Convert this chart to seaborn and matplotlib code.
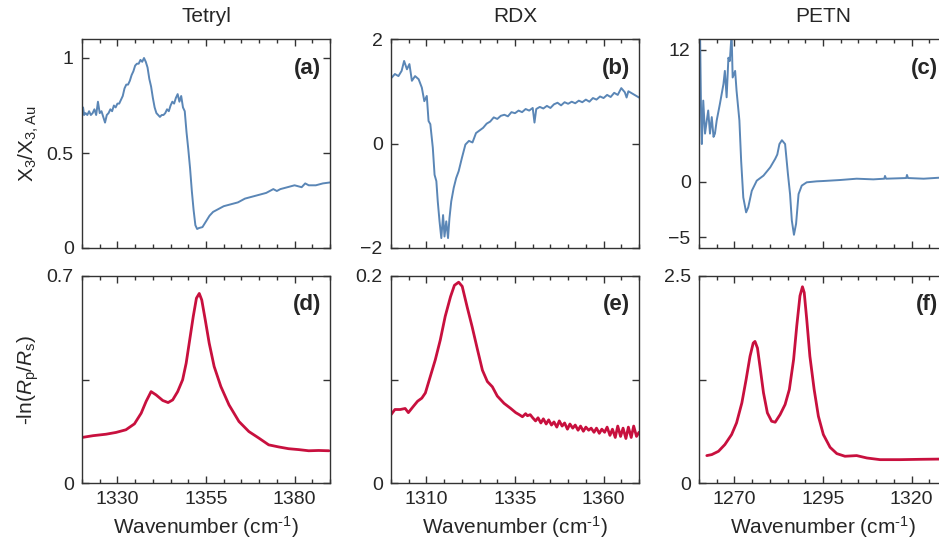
import pandas as pd
import matplotlib
matplotlib.use('Agg')
import matplotlib.pyplot as plt
import seaborn as sns
from matplotlib.ticker import MultipleLocator

# ---- data ----
titles = ['Tetryl', 'RDX', 'PETN']
panel_tags = ['(a)', '(b)', '(c)', '(d)', '(e)', '(f)']

# (a) Tetryl, X3/X3,Au
tetryl_wn_a = [1320, 1320.3, 1320.6, 1321, 1321.5, 1322, 1322.5, 1323, 1323.5, 1324,
               1324.5, 1325, 1325.5, 1326, 1326.5, 1327, 1327.5, 1328, 1328.5, 1329,
               1329.5, 1330, 1330.5, 1331, 1331.5, 1332, 1332.5, 1333, 1333.5, 1334,
               1334.5, 1335, 1335.5, 1336, 1336.5, 1337, 1337.5, 1338, 1338.5, 1339,
               1339.5, 1340, 1340.5, 1341, 1341.5, 1342, 1342.5, 1343, 1343.5, 1344,
               1344.5, 1345, 1345.5, 1346, 1346.5, 1347, 1347.5, 1348, 1348.5, 1349,
               1349.5, 1350, 1350.5, 1351, 1351.5, 1352, 1352.5, 1353, 1354, 1355,
               1356, 1357, 1358, 1359, 1360, 1362, 1364, 1366, 1368, 1370,
               1372, 1374, 1375, 1376, 1378, 1380, 1382, 1383, 1384, 1386, 1388, 1390]
tetryl_x3 = [0.69, 0.74, 0.70, 0.71, 0.70, 0.72, 0.70, 0.71, 0.73, 0.70,
             0.77, 0.71, 0.72, 0.69, 0.66, 0.70, 0.71, 0.73, 0.72, 0.75,
             0.74, 0.76, 0.76, 0.78, 0.80, 0.84, 0.86, 0.86, 0.88, 0.91,
             0.93, 0.96, 0.97, 0.97, 0.99, 0.98, 1.00, 0.98, 0.95, 0.89,
             0.85, 0.79, 0.74, 0.71, 0.70, 0.69, 0.70, 0.70, 0.71, 0.73,
             0.72, 0.75, 0.77, 0.76, 0.79, 0.81, 0.77, 0.80, 0.74, 0.72,
             0.61, 0.52, 0.42, 0.30, 0.20, 0.12, 0.10, 0.105, 0.11, 0.14,
             0.17, 0.19, 0.20, 0.21, 0.22, 0.23, 0.24, 0.26, 0.27, 0.28,
             0.29, 0.31, 0.30, 0.31, 0.32, 0.33, 0.32, 0.34, 0.33, 0.33, 0.34, 0.345]

# (b) RDX, X3/X3,Au
rdx_wn_b = [1300.2, 1301.1, 1302.1, 1303.0, 1303.7, 1304.5, 1305.2, 1305.9, 1306.8, 1307.8,
            1308.7, 1309.4, 1310.1, 1310.6, 1311.1, 1311.8, 1312.3, 1312.8, 1313.2, 1313.7,
            1314.2, 1314.7, 1315.1, 1315.6, 1316.1, 1316.5, 1317.0, 1317.7, 1318.4, 1319.1,
            1320.0, 1321.0, 1322, 1323, 1324, 1325, 1326, 1327, 1328, 1329,
            1330, 1331, 1332, 1333, 1334, 1335, 1336, 1337, 1338, 1339,
            1340, 1340.5, 1341, 1342, 1343, 1344, 1345, 1346, 1347, 1348,
            1349, 1350, 1351, 1352, 1353, 1354, 1355, 1356, 1357, 1358,
            1359, 1360, 1361, 1362, 1363, 1364, 1365, 1366, 1366.5, 1367,
            1368, 1369, 1370]
rdx_x3 = [1.26, 1.33, 1.29, 1.39, 1.58, 1.42, 1.52, 1.20, 1.29, 1.23,
          1.07, 0.81, 0.91, 0.43, 0.37, -0.08, -0.60, -0.72, -1.11, -1.49,
          -1.81, -1.37, -1.78, -1.49, -1.81, -1.43, -1.11, -0.85, -0.66, -0.53,
          -0.28, -0.02, 0.05, 0.02, 0.20, 0.25, 0.30, 0.38, 0.42, 0.50,
          0.47, 0.53, 0.55, 0.52, 0.60, 0.58, 0.63, 0.60, 0.66, 0.63,
          0.68, 0.40, 0.66, 0.70, 0.67, 0.72, 0.68, 0.75, 0.78, 0.73,
          0.79, 0.76, 0.80, 0.77, 0.82, 0.79, 0.84, 0.80, 0.87, 0.84,
          0.90, 0.87, 0.93, 0.89, 0.97, 0.93, 1.06, 0.98, 0.88, 1.00,
          0.96, 0.92, 0.88]

# (c) PETN, X3/X3,Au
petn_wn_c = [1260.3, 1260.6, 1260.8, 1261.2, 1261.7, 1262.2, 1262.6, 1263.1, 1263.6, 1264.1,
             1264.5, 1265.0, 1265.9, 1266.9, 1267.3, 1267.8, 1268.3, 1268.7, 1269.2, 1269.5,
             1270.2, 1270.6, 1271.4, 1271.9, 1272.5, 1273.3, 1273.9, 1274.9, 1276.3, 1278.2,
             1280.1, 1281.5, 1282.1, 1282.7, 1283.4, 1284.3, 1285.1, 1285.7, 1286.2, 1286.8,
             1287.4, 1288.1, 1289.0, 1290.4, 1293.2, 1295.1, 1299.8, 1304.5, 1309.2, 1312.3,
             1312.5, 1312.8, 1318.5, 1318.7, 1319.0, 1323.4, 1327.8, 1330.0]
petn_x3 = [13.5, 5.9, 3.45, 7.4, 4.4, 5.6, 6.5, 4.4, 5.9, 4.1,
           4.4, 5.6, 7.1, 8.9, 10.1, 7.7, 11.3, 11.0, 13.5, 9.5,
           10.1, 8.3, 5.6, 1.9, -1.4, -2.76, -2.3, -0.8, 0.12, 0.58,
           1.33, 2.1, 2.5, 3.45, 3.8, 3.45, 0.73, -1.1, -3.5, -4.8,
           -3.8, -1.1, -0.33, -0.03, 0.06, 0.09, 0.18, 0.30, 0.24, 0.30,
           0.55, 0.30, 0.36, 0.64, 0.36, 0.30, 0.39, 0.40]

# (d) Tetryl, -ln(Rp/Rs)
tetryl_wn_d = [1320, 1323.1, 1326.8, 1329.6, 1332.4, 1334.8, 1336.7, 1338.1, 1339.5, 1340.9,
               1342.8, 1344.3, 1345.6, 1347.0, 1348.4, 1349.4, 1350.4, 1351.4, 1352.3, 1353.1,
               1353.8, 1354.8, 1355.9, 1357.3, 1359.2, 1361.5, 1364.3, 1367.1, 1369.9, 1372.7,
               1375.5, 1378.3, 1381.1, 1384.0, 1386.8, 1389.7]
tetryl_lnr = [0.154, 0.160, 0.165, 0.171, 0.180, 0.200, 0.236, 0.276, 0.309, 0.298,
              0.279, 0.272, 0.281, 0.309, 0.349, 0.405, 0.484, 0.563, 0.625, 0.641,
              0.619, 0.551, 0.473, 0.394, 0.326, 0.264, 0.208, 0.174, 0.152, 0.129,
              0.122, 0.116, 0.113, 0.109, 0.110, 0.109]

# (e) RDX, -ln(Rp/Rs)
rdx_wn_e = [1300.0, 1301.1, 1302.6, 1304.0, 1304.9, 1306.3, 1307.5, 1308.7, 1309.7, 1311.1,
            1312.5, 1313.9, 1315.3, 1316.8, 1317.9, 1319.1, 1320.1, 1321.5, 1322.9, 1324.4,
            1325.8, 1327.2, 1328.6, 1330.0, 1331.9, 1333.8, 1335.2, 1336.2, 1337.1, 1338.0,
            1338.5, 1339.3, 1340.0, 1340.8, 1341.5, 1342.3, 1343.0, 1343.8, 1344.5, 1345.3,
            1346.0, 1346.8, 1347.5, 1348.3, 1349.0, 1349.8, 1350.5, 1351.3, 1352.0, 1352.8,
            1353.5, 1354.3, 1355.0, 1355.8, 1356.5, 1357.3, 1358.0, 1358.8, 1359.5, 1360.3,
            1361.0, 1361.8, 1362.5, 1363.3, 1364.0, 1364.8, 1365.5, 1366.3, 1367.0, 1367.8,
            1368.5, 1369.3, 1370.0]
rdx_lnr = [0.066, 0.071, 0.071, 0.072, 0.068, 0.074, 0.079, 0.082, 0.087, 0.103,
           0.119, 0.138, 0.161, 0.180, 0.191, 0.194, 0.190, 0.170, 0.151, 0.129,
           0.109, 0.098, 0.093, 0.084, 0.077, 0.072, 0.068, 0.066, 0.064, 0.067,
           0.065, 0.066, 0.063, 0.060, 0.063, 0.058, 0.062, 0.057, 0.061, 0.056,
           0.059, 0.054, 0.060, 0.055, 0.058, 0.052, 0.057, 0.053, 0.056, 0.051,
           0.055, 0.050, 0.054, 0.051, 0.053, 0.049, 0.053, 0.048, 0.052, 0.049,
           0.054, 0.046, 0.052, 0.044, 0.055, 0.045, 0.053, 0.043, 0.054, 0.044,
           0.055, 0.045, 0.049]

# (f) PETN, -ln(Rp/Rs)
petn_wn_f = [1262.2, 1263.6, 1265.5, 1267.3, 1269.2, 1270.6, 1272.1, 1273.3, 1274.4, 1275.3,
             1275.8, 1276.5, 1277.2, 1278.2, 1279.3, 1280.5, 1281.5, 1282.9, 1284.3, 1285.5,
             1286.7, 1287.6, 1288.5, 1289.2, 1289.7, 1290.4, 1291.3, 1292.5, 1293.7, 1295.1,
             1297.0, 1298.9, 1301.2, 1304.5, 1307.4, 1311.1, 1316.8, 1322.4, 1330.0]
petn_lnr = [0.331, 0.343, 0.383, 0.464, 0.585, 0.726, 0.968, 1.25, 1.53, 1.69,
            1.71, 1.63, 1.41, 1.09, 0.847, 0.746, 0.734, 0.827, 0.948, 1.13,
            1.49, 1.90, 2.26, 2.37, 2.30, 1.98, 1.53, 1.13, 0.806, 0.585,
            0.431, 0.355, 0.323, 0.331, 0.302, 0.282, 0.282, 0.286, 0.290]

xlims = [(1320, 1390), (1300, 1370), (1260, 1330)]
xticks = [[1330, 1355, 1380], [1310, 1335, 1360], [1270, 1295, 1320]]
top_ylims = [(0, 1.1), (-2, 2), (-6, 13)]
top_yticks = [[0, 0.5, 1], [-2, 0, 2], [-5, 0, 12]]
top_yticklabels = [['0', '0.5', '1'], ['\u22122', '0', '2'], ['\u22125', '0', '12']]
bot_ylims = [(0, 0.7), (0, 0.2), (0, 2.5)]
bot_yticks = [[0, 0.35, 0.7], [0, 0.1, 0.2], [0, 1.25, 2.5]]
bot_yticklabels = [['0', '', '0.7'], ['0', '', '0.2'], ['0', '', '2.5']]

top_data = [(tetryl_wn_a, tetryl_x3), (rdx_wn_b, rdx_x3), (petn_wn_c, petn_x3)]
bot_data = [(tetryl_wn_d, tetryl_lnr), (rdx_wn_e, rdx_lnr), (petn_wn_f, petn_lnr)]

BLUE = '#5a86b6'
RED = '#c8103e'

sns.set_theme(style='ticks')
plt.rcParams['font.family'] = ['Liberation Sans', 'DejaVu Sans']
plt.rcParams['mathtext.fontset'] = 'custom'
plt.rcParams['mathtext.rm'] = 'Liberation Sans'
plt.rcParams['mathtext.it'] = 'Liberation Sans:italic'
plt.rcParams['axes.edgecolor'] = '#333333'
plt.rcParams['axes.linewidth'] = 1.0

W, H = 939, 548
fig = plt.figure(figsize=(W / 100, H / 100), dpi=100)

lefts = [82, 391, 699]
width = 248
rows = [(39, 248), (276, 483)]  # (top, bottom) in pixels


def style_axis(ax, xlim, xt, ylim, yt, ytl):
    ax.set_xlim(*xlim)
    ax.set_ylim(*ylim)
    ax.set_xticks(xt)
    ax.xaxis.set_minor_locator(MultipleLocator(5))
    ax.set_yticks(yt)
    ax.set_yticklabels(ytl)
    ax.tick_params(which='both', direction='in', top=True, right=True,
                   color='#333333', labelsize=14, width=1.0)
    ax.tick_params(which='major', length=5, pad=6)
    ax.tick_params(which='minor', length=3)
    ax.set_xlabel('')
    ax.set_ylabel('')


for r, (top, bot) in enumerate(rows):
    for c in range(3):
        ax = fig.add_axes([lefts[c] / W, (H - bot) / H, width / W, (bot - top) / H])
        if r == 0:
            wn, val = top_data[c]
            df = pd.DataFrame({'wn': wn, 'val': val})
            sns.lineplot(data=df, x='wn', y='val', ax=ax, color=BLUE, lw=1.4, sort=False)
            style_axis(ax, xlims[c], xticks[c], top_ylims[c], top_yticks[c], top_yticklabels[c])
            ax.tick_params(axis='x', labelbottom=False)
            ax.set_title(titles[c], fontsize=15, pad=12)
        else:
            wn, val = bot_data[c]
            df = pd.DataFrame({'wn': wn, 'val': val})
            sns.lineplot(data=df, x='wn', y='val', ax=ax, color=RED, lw=2.0, sort=False)
            style_axis(ax, xlims[c], xticks[c], bot_ylims[c], bot_yticks[c], bot_yticklabels[c])
            ax.set_xlabel('Wavenumber (cm$^{\\mathregular{\u20101}}$)', fontsize=15, labelpad=4)
        ax.text(0.965, 0.86, panel_tags[r * 3 + c], transform=ax.transAxes,
                ha='right', va='center', fontsize=16, fontweight='bold')
        if c == 0:
            if r == 0:
                ax.set_ylabel('$\\mathregular{X_3/X_{3,Au}}$', fontsize=15, labelpad=4)
            else:
                ax.set_ylabel('-ln($R_\\mathregular{p}$/$R_\\mathregular{s}$)', fontsize=15, labelpad=4)

fig.savefig('out.png', dpi=100)
